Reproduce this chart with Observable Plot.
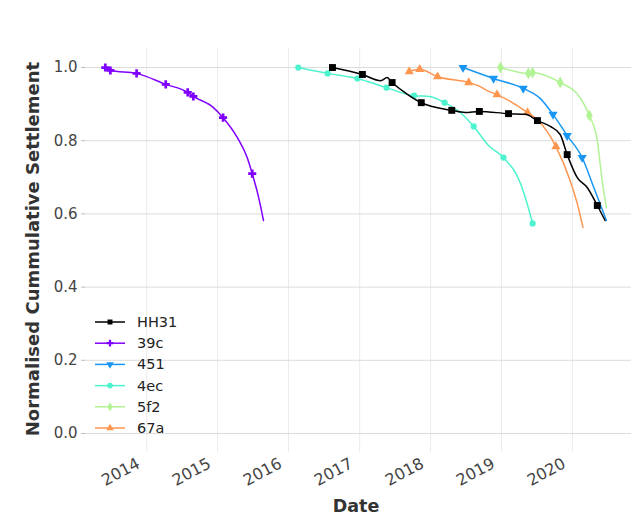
<!DOCTYPE html>
<html><head><meta charset="utf-8">
<script src="https://cdn.jsdelivr.net/npm/d3@7"></script>
<script src="https://cdn.jsdelivr.net/npm/@observablehq/plot@0.6"></script>
<style>
body{margin:0;background:#fff}
#chart{position:relative;width:631px;height:516px}
#chart svg g[aria-label="y-axis tick"] path{stroke:#bbb}
</style>
</head><body><div id="chart"></div>
<script>
const seriesNames = ["HH31","39c","451","4ec","5f2","67a"];
const seriesColors = ["#000000","#8000ff","#1996f3","#4df3ce","#b2f396","#ff964f"];
const yTicks = [0, 0.2, 0.4, 0.6, 0.8, 1.0];
const xTickYears = ["2014","2015","2016","2017","2018","2019","2020"];
const xDomain = ["2013-02-20","2020-10-31"];
const yDomain = [-0.052, 1.052];
const yLabel = "Normalised Cummulative Settlement";
const xLabel = "Date";

const hh31Dates = ["2016-08-14","2017-01-15","2017-04-20","2017-05-22","2017-06-17","2017-08-29","2017-11-14","2018-04-20","2018-06-28","2018-09-09","2019-02-06","2019-05-04","2019-07-05","2019-09-09","2019-10-30","2019-12-05","2020-01-26","2020-03-17","2020-05-08","2020-06-17"];
const hh31Values = [1.0,0.981,0.964,0.973,0.959,0.929,0.904,0.883,0.877,0.880,0.874,0.872,0.855,0.839,0.817,0.762,0.699,0.672,0.623,0.582];
const hh31Markers = [1,1,0,0,1,0,1,1,0,1,1,0,1,0,0,1,0,0,1,0];

const c39Dates = ["2013-06-02","2013-06-28","2013-11-10","2014-04-09","2014-07-31","2014-08-29","2014-12-09","2015-01-29","2015-04-12","2015-06-02","2015-06-28","2015-07-31","2015-08-25"];
const c39Values = [1.0,0.992,0.984,0.954,0.932,0.921,0.891,0.863,0.809,0.754,0.710,0.645,0.582];
const c39Markers = [1,1,1,1,1,1,0,1,0,0,1,0,0];

const s451Dates = ["2018-06-17","2018-11-21","2019-04-23","2019-07-20","2019-09-23","2019-12-05","2020-02-20","2020-04-20","2020-06-24"];
const s451Values = [1.0,0.970,0.943,0.915,0.872,0.814,0.754,0.672,0.582];
const s451Markers = [1,1,1,0,1,1,1,0,0];

const ec4Dates = ["2016-02-20","2016-07-20","2016-12-20","2017-05-19","2017-10-08","2017-12-27","2018-03-14","2018-06-02","2018-08-11","2018-10-26","2019-01-11","2019-04-09","2019-05-19","2019-06-10"];
const ec4Values = [1.0,0.984,0.970,0.945,0.923,0.921,0.904,0.877,0.839,0.787,0.754,0.683,0.617,0.574];
const ec4Markers = [1,1,1,1,1,0,1,0,1,0,1,0,0,1];

const f52Dates = ["2018-12-27","2019-05-19","2019-06-10","2019-10-30","2020-02-09","2020-03-28","2020-05-08","2020-06-02","2020-06-24"];
const f52Values = [1.0,0.984,0.986,0.959,0.918,0.869,0.801,0.691,0.617];
const f52Markers = [1,1,1,1,0,1,0,0,0];

const a67Dates = ["2017-09-13","2017-11-06","2018-02-06","2018-07-16","2018-09-13","2018-10-19","2018-12-09","2019-05-15","2019-07-09","2019-10-08","2019-12-20","2020-01-26","2020-02-24"];
const a67Values = [0.989,0.995,0.975,0.959,0.948,0.937,0.926,0.877,0.855,0.784,0.691,0.628,0.563];
const a67Markers = [1,1,1,1,0,0,1,1,0,1,0,0,0];

const parse = d3.utcParse("%Y-%m-%d");
const sqrt3 = Math.sqrt(3);
const triangleDown = {
  draw(context, size) {
    const y = -Math.sqrt(size / (sqrt3 * 3));
    context.moveTo(0, -y * 2);
    context.lineTo(-sqrt3 * y, y);
    context.lineTo(sqrt3 * y, y);
    context.closePath();
  }
};
const seriesSource = {
  "HH31": [hh31Dates, hh31Values, hh31Markers],
  "39c": [c39Dates, c39Values, c39Markers],
  "451": [s451Dates, s451Values, s451Markers],
  "4ec": [ec4Dates, ec4Values, ec4Markers],
  "5f2": [f52Dates, f52Values, f52Markers],
  "67a": [a67Dates, a67Values, a67Markers]
};
const seriesSymbol = {"HH31": d3.symbolSquare, "39c": d3.symbolCross, "451": triangleDown, "4ec": d3.symbolCircle, "5f2": d3.symbolDiamond, "67a": d3.symbolTriangle};
const seriesR = {"HH31": 3.9, "39c": 3.4, "451": 3.4, "4ec": 3.1, "5f2": 3.6, "67a": 3.4};
const colorOf = Object.fromEntries(seriesNames.map((n, i) => [n, seriesColors[i]]));

const rows = seriesNames.flatMap(name => {
  const [ds, vs, ms] = seriesSource[name];
  return ds.map((d, j) => ({series: name, date: parse(d), value: vs[j], marked: ms[j] === 1}));
});

const drawOrder = ["39c","451","4ec","5f2","67a","HH31"];
const seriesMarks = drawOrder.flatMap(name => {
  const data = rows.filter(r => r.series === name);
  return [
    Plot.line(data, {x: "date", y: "value", stroke: colorOf[name], strokeWidth: 1.5, curve: "monotone-x"}),
    Plot.dot(data.filter(r => r.marked), {x: "date", y: "value", symbol: seriesSymbol[name], r: seriesR[name], fill: colorOf[name], stroke: "none"})
  ];
});

const xTicks = xTickYears.map(y => parse(y + "-01-01"));

const chart = Plot.plot({
  width: 631,
  height: 516,
  marginLeft: 85,
  marginRight: 0,
  marginTop: 48,
  marginBottom: 64,
  style: {fontFamily: "DejaVu Sans", fontSize: "15px", color: "#444", background: "#fff"},
  x: {type: "utc", domain: xDomain.map(parse)},
  y: {domain: yDomain},
  marks: [
    Plot.gridX(xTicks, {stroke: "#ebebeb", strokeOpacity: 1}),
    Plot.gridY(yTicks, {stroke: "#dcdcdc", strokeOpacity: 1}),
    Plot.axisY(yTicks, {tickFormat: d3.format(".1f"), tickSize: 4, tickPadding: 4, label: null, fontSize: 15}),
    Plot.axisX(xTicks, {tickFormat: d3.utcFormat("%Y"), tickRotate: -28, tickSize: 0, tickPadding: 10, dx: -8, label: null, fontSize: 16}),
    ...seriesMarks
  ]
});
document.getElementById("chart").appendChild(chart);

const svg = d3.select(chart);
svg.append("text")
  .attr("transform", "translate(33,249) rotate(-90)")
  .attr("text-anchor", "middle")
  .attr("dy", "0.35em")
  .attr("font-weight", "bold")
  .attr("font-size", 18)
  .attr("fill", "#333")
  .text(yLabel);
svg.append("text")
  .attr("x", 356).attr("y", 512)
  .attr("text-anchor", "middle")
  .attr("font-weight", "bold")
  .attr("font-size", 17.5)
  .attr("fill", "#333")
  .text(xLabel);

const legend = svg.append("g").attr("font-size", 14.5).attr("fill", "#222").attr("text-anchor", "start");
seriesNames.forEach((name, i) => {
  const yPos = 322 + i * 21.2;
  const g = legend.append("g").attr("transform", `translate(0,${yPos})`);
  g.append("line").attr("x1", 95).attr("x2", 125).attr("y1", 0).attr("y2", 0)
    .attr("stroke", colorOf[name]).attr("stroke-width", 1.5);
  g.append("path").attr("transform", "translate(110,0)")
    .attr("d", d3.symbol(seriesSymbol[name], Math.PI * 2.8 * 2.8)())
    .attr("fill", colorOf[name]);
  g.append("text").attr("x", 137).attr("y", 0).attr("dy", "0.35em").text(name);
});
</script>
</body></html>
